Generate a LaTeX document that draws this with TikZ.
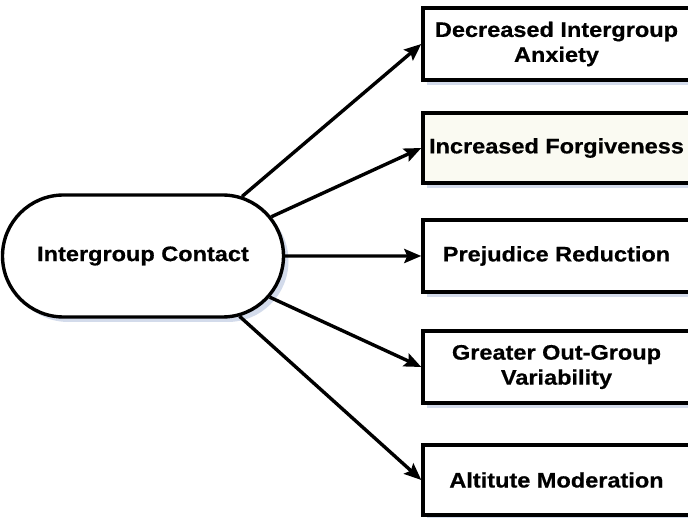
\documentclass[tikz,border=0pt]{standalone}
\usepackage{fontspec}
\setmainfont{Liberation Sans}[FakeStretch=1.12, FakeBold=0.6]
\usetikzlibrary{shapes.misc,shadows,arrows.meta}
\definecolor{shadowblue}{RGB}{200,210,230}
\definecolor{creamfill}{RGB}{250,250,242}
\begin{document}
\begin{tikzpicture}[x=1pt,y=-1pt,
  txt/.style={font=\fontsize{21}{25}\selectfont\bfseries, align=center, text=black},
  outbox/.style={txt, draw, line width=3.4pt, fill=white, minimum width=267pt,
    minimum height=72pt, inner sep=0pt,
    drop shadow={shadow xshift=4pt, shadow yshift=-5pt, fill=shadowblue, opacity=0.8}},
  hub/.style={txt, draw, line width=3.4pt, fill=white, rounded rectangle,
    minimum width=281pt, minimum height=122pt, inner sep=0pt,
    drop shadow={shadow xshift=5pt, shadow yshift=-5pt, fill=shadowblue, opacity=0.8}},
  link/.style={line width=3.4pt, -{Stealth[length=17pt,width=14pt,inset=3pt]}}]
\useasboundingbox (0,0) rectangle (688,518);
\clip (0,0) rectangle (688,518);
\fill[white] (0,0) rectangle (688,518);
\node[hub] (ic) at (143,256) {Intergroup Contact};
\node[outbox] (b1) at (556.5,44) {Decreased Intergroup\\Anxiety};
\node[outbox, fill=creamfill, minimum height=70pt] (b2) at (556.5,148) {Increased Forgiveness};
\node[outbox] (b3) at (556.5,256) {Prejudice Reduction};
\node[outbox] (b4) at (556.5,367) {Greater Out-Group\\Variability};
\node[outbox, minimum height=70pt] (b5) at (556.5,480) {Altitute Moderation};
\draw[link] (ic.31) -- (b1.west);
\draw[link] (ic.17) -- (b2.west);
\draw[link] (ic.0) -- (b3.west);
\draw[link] (ic.-18) -- (b4.west);
\draw[link] (ic.-32) -- (b5.west);
\end{tikzpicture}
\end{document}
